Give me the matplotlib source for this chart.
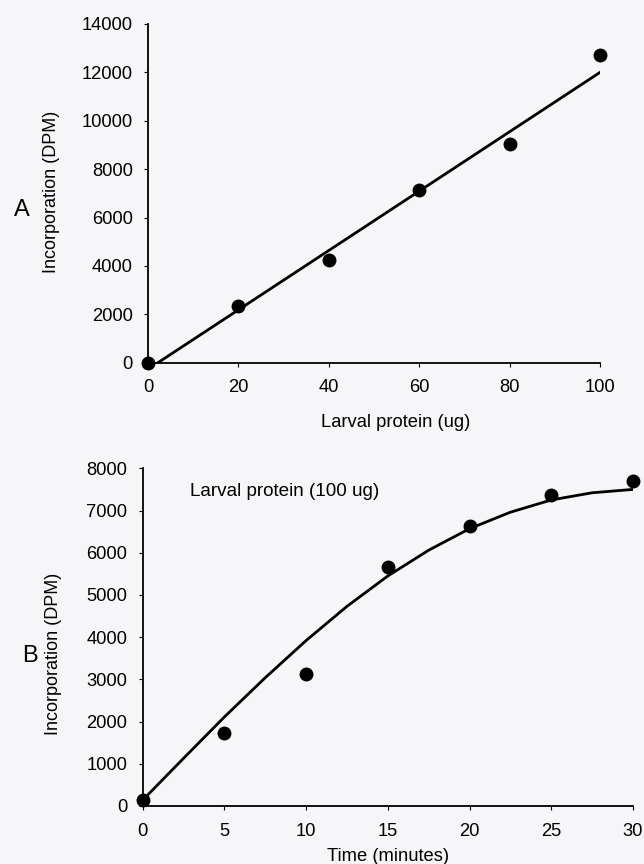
import matplotlib
matplotlib.use("Agg")
import matplotlib.pyplot as plt

plt.rcParams['font.family'] = ['Liberation Sans', 'DejaVu Sans']

# panel A data
protein = [0, 20, 40, 60, 80, 100]
dpm_a = [0, 2330, 4250, 7150, 9050, 12700]
fit_a_x = [2.2, 100]
fit_a_y = [0, 12000]

# panel B data
time_min = [0, 5, 10, 15, 20, 25, 30]
dpm_b = [150, 1730, 3130, 5670, 6630, 7370, 7690]
curve_b_x = [0, 2.5, 5, 7.5, 10, 12.5, 15, 17.5, 20, 22.5, 25, 27.5, 30]
curve_b_y = [140, 1130, 2110, 3040, 3920, 4730, 5450, 6060, 6570, 6960, 7250, 7420, 7500]

bg = '#f6f6f9'
fs = 13.2
fig = plt.figure(figsize=(6.44, 8.64), dpi=100, facecolor=bg)

W, H = 644, 864

def style(ax):
    ax.set_facecolor(bg)
    ax.spines['top'].set_visible(False)
    ax.spines['right'].set_visible(False)
    for s in ('left', 'bottom'):
        ax.spines[s].set_linewidth(1.3)
    ax.tick_params(direction='out', length=3, width=0.8, pad=8, labelsize=fs)
    ax.tick_params(axis='x', pad=9)

# ---- A ----
axA = fig.add_axes([148 / W, 1 - 362.7 / H, 452 / W, (362.7 - 24) / H])
style(axA)
axA.plot(fit_a_x, fit_a_y, color='black', lw=2)
axA.plot(protein, dpm_a, 'o', color='black', ms=9, clip_on=False)
axA.set_xlim(0, 100)
axA.set_ylim(0, 14000)
axA.set_xticks(protein)
axA.set_yticks(range(0, 14001, 2000))
axA.set_xlabel('Larval protein (ug)', fontsize=fs)
axA.xaxis.set_label_coords(0.549, -0.15)
axA.set_ylabel('Incorporation (DPM)', fontsize=13)
axA.yaxis.set_label_coords(-0.195, 0.505)

# ---- B ----
axB = fig.add_axes([142.7 / W, 1 - 806 / H, 490.3 / W, (806 - 468.3) / H])
style(axB)
axB.plot(curve_b_x, curve_b_y, color='black', lw=2)
axB.plot(time_min, dpm_b, 'o', color='black', ms=9, clip_on=False)
axB.set_xlim(0, 30)
axB.set_ylim(0, 8000)
axB.set_xticks(time_min)
axB.set_yticks(range(0, 8001, 1000))
axB.set_xlabel('Time (minutes)', fontsize=fs)
axB.xaxis.set_label_coords(0.5, -0.125)
axB.set_ylabel('Incorporation (DPM)', fontsize=13)
axB.yaxis.set_label_coords(-0.165, 0.45)
axB.text(2.9, 7450, 'Larval protein (100 ug)', fontsize=13.6, va='center', ha='left')

fig.text(22 / W, 1 - 210 / H, 'A', fontsize=17, ha='center', va='center')
fig.text(30 / W, 1 - 656 / H, 'B', fontsize=17, ha='center', va='center')

fig.savefig('out.png', dpi=100, facecolor=bg)
